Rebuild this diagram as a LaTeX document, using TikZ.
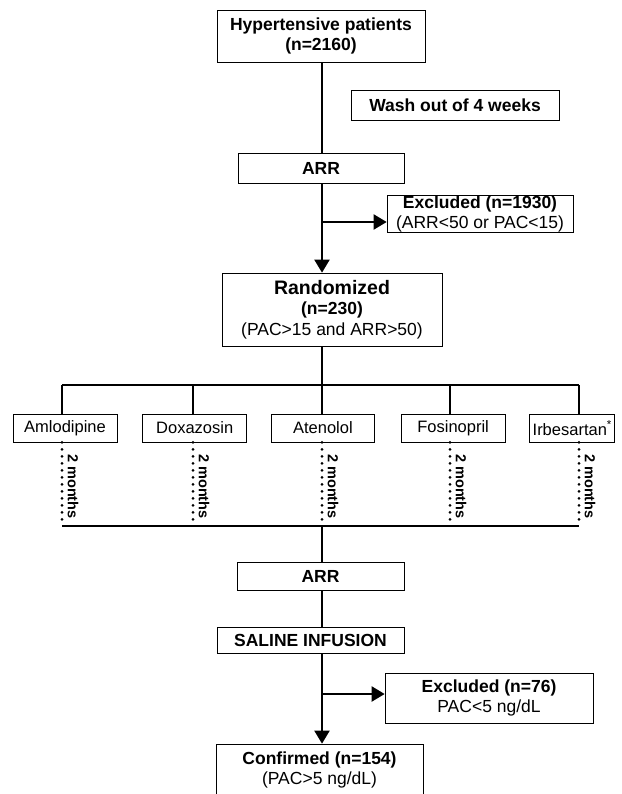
\documentclass[tikz,border=0pt]{standalone}
\usepackage{fontspec}
\setmainfont{Liberation Sans}
\usetikzlibrary{arrows.meta, positioning}

\tikzset{
	box/.style={draw, line width=0.7pt, align=center, inner sep=0pt,
		font=\fontsize{17.5}{20.5}\selectfont},
	drug/.style={box, minimum width=104pt, minimum height=28pt,
		font=\fontsize{16.5}{20}\selectfont},
	link/.style={line width=2.2pt},
	arrowlink/.style={line width=2.2pt, -{Triangle[length=13pt, width=15pt]}},
	dots/.style={line width=3pt, line cap=round, dash pattern=on 0pt off 7pt},
	months/.style={rotate=-90, anchor=west, inner sep=0pt,
		font=\fontsize{14.5}{17}\selectfont\bfseries}
}

\begin{document}
\begin{tikzpicture}[x=1pt, y=-1pt]
		
		\useasboundingbox (0,0) rectangle (621,794);
		
		% screening
		\node[box, minimum width=208pt, minimum height=52pt] (pat) at (321,36)
		{\textbf{Hypertensive patients}\\\textbf{(n=2160)}};
		\node[box, minimum width=208pt, minimum height=30pt] (wash) at (455,105)
		{\textbf{Wash out of 4 weeks}};
		\node[box, minimum width=166pt, minimum height=30pt] (arr1) at (321,168) {\textbf{ARR}};
		\node[box, minimum width=186pt, minimum height=37pt] (excl1) at (480,214)
		{\textbf{Excluded (n=1930)}\\(ARR<50 or PAC<15)};
		\node[box, minimum width=220pt, minimum height=73pt] (rand) at (332,309.5)
		{{\fontsize{19.5}{23}\selectfont\textbf{Randomized}}\\\textbf{(n=230)}\\(PAC>15 and ARR>50)};
		
		% treatments
		\node[drug] (aml) at (65,428) {Amlodipine};
		\node[drug, right=25pt of aml] (dox) {Doxazosin};
		\node[drug, right=24pt of dox, minimum width=103pt] (ate) {Atenolol};
		\node[drug, right=26pt of ate] (fos) {Fosinopril};
		\node[drug, right=24pt of fos, minimum width=85pt] (irb) {Irbesartan\textsuperscript{*}};
		
		\coordinate (fork) at (322,385);
		\coordinate (join) at (322,526);
		\coordinate (b1) at (62,385);
		\coordinate (b2) at (193,385);
		\coordinate (b3) at (322,385);
		\coordinate (b4) at (450,385);
		\coordinate (b5) at (579,385);
		\coordinate (d1) at (62,526);
		\coordinate (d2) at (193,526);
		\coordinate (d3) at (322,526);
		\coordinate (d4) at (450,526);
		\coordinate (d5) at (579,526);
		
		\node[months] (m1) at (73,454) {2 months};
		\node[months] (m2) at (204,454) {2 months};
		\node[months] (m3) at (333,454) {2 months};
		\node[months] (m4) at (461,454) {2 months};
		\node[months] (m5) at (590,454) {2 months};
		
		% confirmation
		\node[box, minimum width=167pt, minimum height=28pt] (arr2) at (320.5,576) {\textbf{ARR}};
		\node[box, minimum width=187pt, minimum height=26pt] (saline) at (310.5,640)
		{\textbf{SALINE INFUSION}};
		\node[box, minimum width=208pt, minimum height=50pt] (excl2) at (489,698)
		{\textbf{Excluded (n=76)}\\PAC<5 ng/dL};
		\node[box, minimum width=207pt, minimum height=52pt] (conf) at (319.5,770)
		{\textbf{Confirmed (n=154)}\\(PAC>5 ng/dL)};
		
		\coordinate (j1) at (322,222);
		\coordinate (j2) at (322,694);
		
		\draw[link] (pat.south -| fork) -- (arr1.north -| fork);
		\draw[arrowlink] (arr1.south -| fork) -- (rand.north -| fork);
		\draw[arrowlink] (j1) -- (j1 -| excl1.west);
		\draw[link] (rand.south -| fork) -- (fork);
		\draw[link] (b1) -- (b5);
		\draw[link] (b1) -- (b1 |- aml.north);
		\draw[link] (b2) -- (b2 |- dox.north);
		\draw[link] (b3) -- (b3 |- ate.north);
		\draw[link] (b4) -- (b4 |- fos.north);
		\draw[link] (b5) -- (b5 |- irb.north);
		\draw[dots] (d1 |- aml.south) -- (d1);
		\draw[dots] (d2 |- dox.south) -- (d2);
		\draw[dots] (d3 |- ate.south) -- (d3);
		\draw[dots] (d4 |- fos.south) -- (d4);
		\draw[dots] (d5 |- irb.south) -- (d5);
		\draw[link] (d1) -- (d5);
		\draw[link] (join) -- (arr2.north -| join);
		\draw[link] (arr2.south -| join) -- (saline.north -| join);
		\draw[arrowlink] (saline.south -| join) -- (conf.north -| join);
		\draw[arrowlink] (j2) -- (j2 -| excl2.west);
		
\end{tikzpicture}
\end{document}
